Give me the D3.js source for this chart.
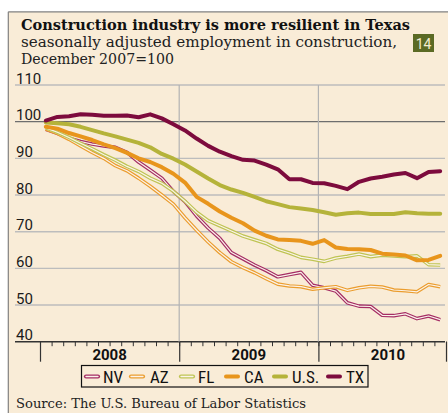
<!DOCTYPE html>
<html><head><meta charset="utf-8">
<script src="https://cdn.jsdelivr.net/npm/d3@7"></script>
<style>html,body{margin:0;padding:0;background:#fff;}svg{display:block;}</style>
</head><body>
<script>
const months = ["2008-01","2008-02","2008-03","2008-04","2008-05","2008-06","2008-07","2008-08","2008-09","2008-10","2008-11","2008-12",
"2009-01","2009-02","2009-03","2009-04","2009-05","2009-06","2009-07","2009-08","2009-09","2009-10","2009-11","2009-12",
"2010-01","2010-02","2010-03","2010-04","2010-05","2010-06","2010-07","2010-08","2010-09","2010-10","2010-11"];
const years = ["2008","2009","2010"];
const yTicks = [40,50,60,70,80,90,100,110];

const TX = [100.3,101.3,101.5,102.0,101.9,101.6,101.6,101.7,101.2,102.0,100.9,99.3,97.6,95.4,93.4,91.8,90.6,89.6,89.4,88.3,87.0,84.3,84.3,83.3,83.2,82.5,81.6,83.6,84.5,85.0,85.6,86.0,84.6,86.3,86.5];
const US = [99.8,99.6,99.3,98.6,97.7,96.8,96.0,95.1,94.2,93.0,91.2,89.9,88.3,86.4,84.5,82.7,81.5,80.6,79.5,78.3,77.5,76.7,76.3,75.9,75.3,74.6,75.0,75.2,74.8,74.8,74.8,75.3,75.0,74.9,74.9];
const CA = [98.6,98.1,96.9,96.0,95.0,93.8,92.8,91.5,90.0,89.0,87.6,85.8,83.4,79.5,77.6,75.5,73.8,72.3,70.3,68.9,67.9,67.7,67.5,66.7,67.7,65.7,65.3,65.2,65.0,64.0,63.8,63.5,62.2,62.3,63.4];
const FL = [98.3,97.1,95.7,94.1,92.6,91.0,89.5,87.8,86.4,84.6,83.2,81.0,78.3,75.3,73.0,71.6,70.2,68.8,67.8,66.8,65.2,64.2,63.0,62.5,61.9,62.8,63.3,63.9,63.2,63.6,63.4,63.2,63.4,61.0,60.9];
const NV = [97.9,96.8,95.5,94.6,93.9,93.4,93.0,91.6,89.0,86.8,84.6,81.0,78.2,74.3,71.0,68.2,64.3,62.6,60.9,59.4,57.7,58.3,58.9,55.4,54.7,53.8,50.6,49.7,49.6,47.2,47.1,47.6,46.3,47.0,46.0];
const AZ = [98.0,96.8,95.2,93.4,91.6,90.0,88.0,86.6,84.6,82.4,80.0,77.5,73.8,70.4,67.2,64.3,61.8,60.2,58.8,57.2,55.7,55.2,55.0,54.3,54.7,55.0,54.0,54.7,55.1,54.9,54.1,53.9,53.6,55.6,55.0];

const seriesNames = ["NV","AZ","FL","CA","U.S.","TX"];
const seriesData = [NV, AZ, FL, CA, US, TX];
const seriesColors = ["#a52d64","#eb9d2e","#bfc453","#e8951c","#b5b33a","#7d0b3d"];
const seriesDouble = [true,true,true,false,false,false];

const W = 448, H = 413;
const BG = "#f9ecd7";
const svg = d3.select("body").append("svg").attr("width", W).attr("height", H);
svg.append("rect").attr("width", W).attr("height", H).attr("fill", "#fff");
svg.append("rect").attr("x", 8).attr("y", 12).attr("width", W - 8).attr("height", H - 12).attr("fill", BG);
svg.append("line").attr("x1", 8.3).attr("x2", W).attr("y1", 11.8).attr("y2", 11.8).attr("stroke", "#808080").attr("stroke-width", 1.2);
svg.append("line").attr("x1", 8.3).attr("x2", 8.3).attr("y1", 11.8).attr("y2", H).attr("stroke", "#808080").attr("stroke-width", 1.2);

const xi = d3.scaleLinear().domain([0, months.length]).range([40, 446]);
const y = d3.scaleLinear().domain([40, 110]).range([341.7, 85]);

// title
const serif = "'DejaVu Serif',serif";
svg.append("text").attr("x", 21).attr("y", 29.5).attr("font-family", serif).attr("font-weight", "bold")
  .attr("font-size", 15.5).attr("fill", "#111").attr("textLength", 389).attr("lengthAdjust", "spacingAndGlyphs")
  .text("Construction industry is more resilient in Texas");
svg.append("text").attr("x", 21).attr("y", 46.8).attr("font-family", serif)
  .attr("font-size", 14.5).attr("fill", "#222").attr("textLength", 376).attr("lengthAdjust", "spacingAndGlyphs")
  .text("seasonally adjusted employment in construction,");
svg.append("text").attr("x", 21).attr("y", 64).attr("font-family", serif)
  .attr("font-size", 14.5).attr("fill", "#222").attr("textLength", 153).attr("lengthAdjust", "spacingAndGlyphs")
  .text("December 2007=100");
svg.append("rect").attr("x", 413).attr("y", 34).attr("width", 21).attr("height", 18).attr("fill", "#5b6a24");
svg.append("text").attr("x", 423.5).attr("y", 48.5).attr("text-anchor", "middle").attr("font-family", "Roboto, sans-serif")
  .attr("font-size", 14).attr("fill", "#f3ecd0").text("14");

// gridlines
const sans = "Roboto,'Open Sans',sans-serif";
svg.append("g").selectAll("line").data(yTicks).join("line")
  .attr("x1", 15).attr("x2", 445).attr("y1", d => y(d)).attr("y2", d => y(d))
  .attr("stroke", d => d === 100 ? "#6e6e6e" : (d === 40 ? "#333" : "#bdbdbd"))
  .attr("stroke-width", d => d === 40 ? 1.6 : 1.4);
svg.append("g").selectAll("line").data([12, 24]).join("line")
  .attr("x1", d => xi(d)).attr("x2", d => xi(d)).attr("y1", 85).attr("y2", 341.7)
  .attr("stroke", "#b3b3b3").attr("stroke-width", 1.2);
svg.append("g").selectAll("text").data(yTicks).join("text")
  .attr("x", 16).attr("y", d => y(d) - 1.5).attr("font-family", sans).attr("font-size", 15)
  .attr("fill", "#1a1a1a").text(d => d);

// x axis
const axMinor = d3.axisBottom(xi).tickValues(d3.range(0, months.length + 1)).tickSize(4.5).tickFormat("");
const gMinor = svg.append("g").attr("transform", "translate(0,341.7)").call(axMinor);
gMinor.select(".domain").remove();
gMinor.selectAll("line").attr("stroke", "#333").attr("stroke-width", 1);
const axMajor = d3.axisBottom(xi).tickValues([0, 12, 24, months.length]).tickSize(20).tickFormat("");
const gMajor = svg.append("g").attr("transform", "translate(0,341.7)").call(axMajor);
gMajor.select(".domain").remove();
gMajor.selectAll("line").attr("stroke", "#333").attr("stroke-width", 1.2);
svg.append("g").selectAll("text").data(years).join("text")
  .attr("x", (d, i) => xi(i * 12 + 6)).attr("y", 360).attr("text-anchor", "middle")
  .attr("font-family", sans).attr("font-weight", "bold").attr("font-size", 15).attr("fill", "#111").text(d => d);

// lines
const line = d3.line().x((d, i) => xi(i + 0.5)).y(d => y(d)).curve(d3.curveLinear);
const gl = svg.append("g");
seriesData.forEach((s, k) => {
  if (seriesDouble[k]) {
    gl.append("path").attr("d", line(s)).attr("fill", "none").attr("stroke", seriesColors[k])
      .attr("stroke-width", 3.6).attr("stroke-linejoin", "round");
    gl.append("path").attr("d", line(s)).attr("fill", "none").attr("stroke", "#fbf3ea")
      .attr("stroke-width", 1.2).attr("stroke-linejoin", "round");
  }
});
seriesData.forEach((s, k) => {
  if (!seriesDouble[k]) {
    gl.append("path").attr("d", line(s)).attr("fill", "none").attr("stroke", seriesColors[k])
      .attr("stroke-width", 4).attr("stroke-linejoin", "round").attr("stroke-linecap", "round");
  }
});

// legend
const narrow = "'Liberation Sans Narrow','Roboto Condensed',Roboto,sans-serif";
svg.append("rect").attr("x", 81.5).attr("y", 365.5).attr("width", 286.5).attr("height", 21.5)
  .attr("fill", BG).attr("stroke", "#111").attr("stroke-width", 1.2);
const symX = [86, 131, 181, 226, 274, 328];
const txtX = [103, 150, 198, 244, 292, 346];
const lg = svg.append("g");
seriesNames.forEach((n, k) => {
  const yy = 376.5;
  lg.append("line").attr("x1", symX[k]).attr("x2", symX[k] + 12).attr("y1", yy).attr("y2", yy)
    .attr("stroke", seriesColors[k]).attr("stroke-width", seriesDouble[k] ? 4.2 : 4).attr("stroke-linecap", "round");
  if (seriesDouble[k]) {
    lg.append("line").attr("x1", symX[k]).attr("x2", symX[k] + 12).attr("y1", yy).attr("y2", yy)
      .attr("stroke", "#fbf3ea").attr("stroke-width", 1.3).attr("stroke-linecap", "round");
  }
  lg.append("text").attr("x", txtX[k]).attr("y", 382.5).attr("font-family", narrow).attr("font-size", 17)
    .attr("fill", "#111").text(n);
});

// source
svg.append("text").attr("x", 16).attr("y", 408).attr("font-family", serif).attr("font-size", 13.5)
  .attr("fill", "#222").attr("textLength", 290).attr("lengthAdjust", "spacingAndGlyphs")
  .text("Source: The U.S. Bureau of Labor Statistics");
</script>
</body></html>
